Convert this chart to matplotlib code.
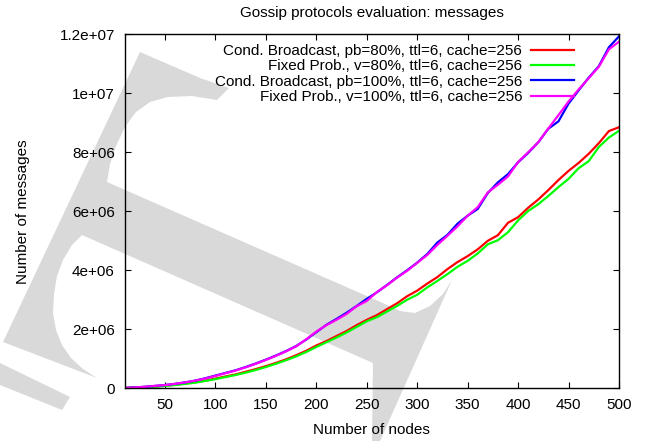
import matplotlib
matplotlib.use("Agg")
import matplotlib.pyplot as plt
import matplotlib.transforms as mtransforms
from matplotlib.patches import Polygon
import numpy as np

plt.rcParams['font.family'] = ['Liberation Sans', 'DejaVu Sans']

nodes = list(range(10, 501, 10))

cb80 = [0.01, 0.02, 0.04, 0.06, 0.09, 0.12, 0.16, 0.21, 0.26, 0.33,
        0.40, 0.47, 0.56, 0.65, 0.75, 0.86, 0.98, 1.12, 1.27, 1.45,
        1.60, 1.77, 1.94, 2.14, 2.32, 2.48, 2.68, 2.88, 3.12, 3.31,
        3.55, 3.77, 4.04, 4.28, 4.48, 4.71, 5.00, 5.19, 5.61, 5.80,
        6.12, 6.40, 6.72, 7.06, 7.37, 7.64, 7.95, 8.31, 8.72, 8.85]
fp80 = [0.01, 0.02, 0.03, 0.05, 0.08, 0.11, 0.15, 0.19, 0.25, 0.31,
        0.38, 0.45, 0.53, 0.62, 0.72, 0.83, 0.95, 1.08, 1.23, 1.40,
        1.56, 1.72, 1.89, 2.08, 2.27, 2.41, 2.60, 2.79, 3.00, 3.17,
        3.42, 3.64, 3.87, 4.12, 4.32, 4.57, 4.88, 5.02, 5.29, 5.69,
        6.01, 6.24, 6.52, 6.82, 7.10, 7.46, 7.70, 8.18, 8.50, 8.73]
cb100 = [0.01, 0.03, 0.05, 0.08, 0.11, 0.15, 0.20, 0.26, 0.34, 0.43,
         0.52, 0.61, 0.72, 0.84, 0.97, 1.11, 1.26, 1.43, 1.65, 1.90,
         2.15, 2.35, 2.56, 2.79, 3.03, 3.25, 3.50, 3.76, 4.00, 4.26,
         4.55, 4.94, 5.20, 5.58, 5.85, 6.08, 6.62, 6.98, 7.26, 7.66,
         7.98, 8.34, 8.80, 9.05, 9.65, 10.10, 10.53, 10.92, 11.56, 11.93]
fp100 = [0.01, 0.03, 0.05, 0.08, 0.11, 0.15, 0.20, 0.26, 0.33, 0.42,
         0.51, 0.60, 0.71, 0.83, 0.96, 1.10, 1.25, 1.42, 1.66, 1.92,
         2.14, 2.32, 2.52, 2.78, 2.96, 3.26, 3.49, 3.75, 3.98, 4.25,
         4.52, 4.86, 5.17, 5.49, 5.85, 6.14, 6.64, 6.90, 7.18, 7.67,
         8.00, 8.34, 8.81, 9.26, 9.72, 10.13, 10.51, 10.90, 11.49, 11.75]

series_labels = ["Cond. Broadcast, pb=80%, ttl=6, cache=256",
                 "Fixed Prob., v=80%, ttl=6, cache=256",
                 "Cond. Broadcast, pb=100%, ttl=6, cache=256",
                 "Fixed Prob., v=100%, ttl=6, cache=256"]
series_colors = ["#ff0000", "#00ff00", "#0000ff", "#ff00ff"]

xticks = [50, 100, 150, 200, 250, 300, 350, 400, 450, 500]
yticks = [0, 2e6, 4e6, 6e6, 8e6, 1e7, 1.2e7]
yticklabels = ["0", "2e+06", "4e+06", "6e+06", "8e+06", "1e+07", "1.2e+07"]

W, H = 653, 441
fig = plt.figure(figsize=(W / 100, H / 100), dpi=100)
fig.patch.set_facecolor("white")

# watermark (pixel coords, y down)
pix = mtransforms.Affine2D().scale(1.0 / W, -1.0 / H).translate(0, 1) + fig.transFigure
main_shape = [(3, 342), (140, 52), (200, 78), (229, 88), (217, 100), (192, 96),
              (168, 97), (150, 102), (136, 112), (125, 127), (116, 146), (110, 164),
              (107, 182),
              (385, 304), (400, 311), (415, 313), (430, 306), (443, 294), (452, 280),
              (380, 441), (372, 441), (373, 363), (82, 235),
              (72, 245), (63, 260), (57, 276), (54, 294), (53, 313), (56, 330),
              (62, 345), (71, 358), (83, 369), (97, 378)]
piece2 = [(0, 363), (70, 397), (62, 410), (0, 385)]
for shp in (main_shape, piece2):
    fig.patches.append(Polygon(shp, closed=True, transform=pix, facecolor="#d9d9d9",
                               edgecolor="none", zorder=-5))

ax = fig.add_axes([124.5 / W, 1 - 388.3 / H, (619 - 124.5) / W, (388.3 - 34.3) / H])
ax.set_facecolor("none")

x = np.array(nodes)
for vals, lab, col in zip([cb80, fp80, cb100, fp100], series_labels, series_colors):
    ax.plot(x, np.array(vals) * 1e6, color=col, lw=1.6, label=lab)

ax.set_xlim(10, 500)
ax.set_ylim(0, 1.2e7)
ax.set_xticks(xticks)
ax.set_yticks(yticks, yticklabels)
ax.tick_params(direction="in", length=4.5, width=0.8, top=True, right=True,
               labelsize=11, pad=7)
for s in ax.spines.values():
    s.set_linewidth(1.0)

ax.set_title("Gossip protocols evaluation: messages", fontsize=11, pad=12.5)
ax.set_xlabel("Number of nodes", fontsize=11, labelpad=8)
ax.set_ylabel("Number of messages", fontsize=11, labelpad=21)

leg = ax.legend(loc="upper right", bbox_to_anchor=((584 - 124.5) / (619 - 124.5), 1.0),
                frameon=False, markerfirst=False, fontsize=11, handlelength=2.85,
                handletextpad=0.55, labelspacing=0.08, borderpad=0.65, borderaxespad=0.0)
for t in leg.get_texts():
    t.set_ha("right")

fig.savefig("out.png", dpi=100)
